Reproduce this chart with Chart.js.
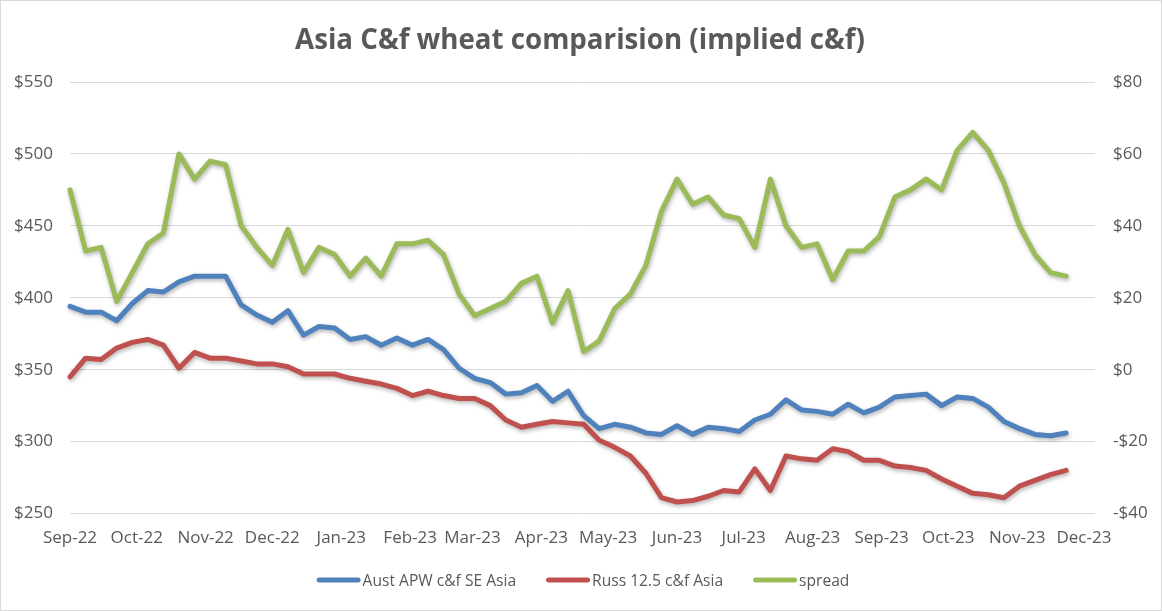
<!DOCTYPE html>
<html>
<head>
<meta charset="utf-8">
<title>Asia C&amp;f wheat comparision</title>
<script src="https://cdn.jsdelivr.net/npm/chart.js@4.4.0/dist/chart.umd.min.js"></script>
<style>
  html, body { margin: 0; padding: 0; background: #ffffff; }
  .chart-box { position: relative; width: 1162px; height: 611px; }
</style>
</head>
<body>
<div class="chart-box"><canvas id="wheatChart"></canvas></div>
<script>
// weekly observations (Thursdays)
const weekDates = [
    '2022-09-01', '2022-09-08', '2022-09-15', '2022-09-22', '2022-09-29',
    '2022-10-06', '2022-10-13', '2022-10-20', '2022-10-27',
    '2022-11-03', '2022-11-10', '2022-11-17', '2022-11-24',
    '2022-12-01', '2022-12-08', '2022-12-15', '2022-12-22', '2022-12-29',
    '2023-01-05', '2023-01-12', '2023-01-19', '2023-01-26',
    '2023-02-02', '2023-02-09', '2023-02-16', '2023-02-23',
    '2023-03-02', '2023-03-09', '2023-03-16', '2023-03-23', '2023-03-30',
    '2023-04-06', '2023-04-13', '2023-04-20', '2023-04-27',
    '2023-05-04', '2023-05-11', '2023-05-18', '2023-05-25',
    '2023-06-01', '2023-06-08', '2023-06-15', '2023-06-22', '2023-06-29',
    '2023-07-06', '2023-07-13', '2023-07-20', '2023-07-27',
    '2023-08-03', '2023-08-10', '2023-08-17', '2023-08-24', '2023-08-31',
    '2023-09-07', '2023-09-14', '2023-09-21', '2023-09-28',
    '2023-10-05', '2023-10-12', '2023-10-19', '2023-10-26',
    '2023-11-02', '2023-11-09', '2023-11-16', '2023-11-23'
];

const tickDates = [
    '2022-09-01', '2022-10-01', '2022-11-01', '2022-12-01', '2023-01-01', '2023-02-01',
    '2023-03-01', '2023-04-01', '2023-05-01', '2023-06-01', '2023-07-01', '2023-08-01',
    '2023-09-01', '2023-10-01', '2023-11-01', '2023-12-01'
];
const tickLabels = [
    'Sep-22', 'Oct-22', 'Nov-22', 'Dec-22', 'Jan-23', 'Feb-23', 'Mar-23', 'Apr-23',
    'May-23', 'Jun-23', 'Jul-23', 'Aug-23', 'Sep-23', 'Oct-23', 'Nov-23', 'Dec-23'
];

const austApw = [
    394, 390, 390, 384, 396, 405, 404, 411, 415, 415, 415, 395, 388, 383, 391, 374,
    380, 379, 371, 373, 367, 372, 367, 371, 364, 351, 344, 341, 333, 334, 339, 328,
    335, 318, 309, 312, 310, 306, 305, 311, 305, 310, 309, 307, 315, 319, 329, 322,
    321, 319, 326, 320, 324, 331, 332, 333, 325, 331, 330, 324, 314, 309, 305, 304, 306
];
const russ125 = [
    345, 358, 357, 365, 369, 371, 367, 351, 362, 358, 358, 356, 354, 354, 352, 347,
    347, 347, 344, 342, 340, 337, 332, 335, 332, 330, 330, 325, 315, 310, 312, 314,
    313, 312, 301, 296, 290, 278, 261, 258, 259, 262, 266, 265, 281, 266, 290, 288,
    287, 295, 293, 287, 287, 283, 282, 280, 274, 269, 264, 263, 261, 269, 273, 277, 280
];
const spread = [
    50, 33, 34, 19, 27, 35, 38, 60, 53, 58, 57, 40, 34, 29, 39, 27,
    34, 32, 26, 31, 26, 35, 35, 36, 32, 21, 15, 17, 19, 24, 26, 13,
    22, 5, 8, 17, 21, 29, 44, 53, 46, 48, 43, 42, 34, 53, 40, 34,
    35, 25, 33, 33, 37, 48, 50, 53, 50, 61, 66, 61, 52, 40, 32, 27, 26
];

const seriesNames = ['Aust APW c&f SE Asia', 'Russ 12.5 c&f Asia', 'spread'];
const chartTitle = 'Asia C&f wheat comparision (implied c&f)';

const fontFamily = "'Open Sans', 'DejaVu Sans', sans-serif";
const textColor = '#595959';

const dayZero = Date.parse(weekDates[0]);
const toDay = d => (Date.parse(d) - dayZero) / 86400000;
const toPoints = values => values.map((v, i) => ({ x: toDay(weekDates[i]), y: v }));

const money = v => (v < 0 ? '-$' + Math.abs(v) : '$' + v);

// excel-ish soft shadow under each line
const lineShadow = {
    id: 'lineShadow',
    beforeDatasetDraw: chart => {
        const ctx = chart.ctx;
        ctx.save();
        ctx.shadowColor = 'rgba(0, 0, 0, 0.3)';
        ctx.shadowBlur = 4;
        ctx.shadowOffsetX = 1;
        ctx.shadowOffsetY = 2;
    },
    afterDatasetDraw: chart => {
        chart.ctx.restore();
    }
};

// title, legend and outer border drawn where excel puts them
const excelFrame = {
    id: 'excelFrame',
    beforeDraw: chart => {
        const ctx = chart.ctx;
        ctx.save();
        ctx.fillStyle = '#ffffff';
        ctx.fillRect(0, 0, chart.width, chart.height);
        ctx.restore();
    },
    afterDraw: chart => {
        const ctx = chart.ctx;
        ctx.save();
        ctx.strokeStyle = '#d9d9d9';
        ctx.lineWidth = 1;
        ctx.strokeRect(0.5, 0.5, chart.width - 1, chart.height - 1);

        ctx.fillStyle = textColor;
        ctx.font = `bold 27.7px ${fontFamily}`;
        ctx.textAlign = 'center';
        ctx.textBaseline = 'alphabetic';
        ctx.fillText(chartTitle, 580, 49);

        ctx.font = `15.6px ${fontFamily}`;
        ctx.textAlign = 'left';
        const items = chart.data.datasets.map(ds => ({
            label: ds.label,
            color: ds.borderColor,
            width: ctx.measureText(ds.label).width
        }));
        const lineLen = 44, gap = 2, spacing = 30;
        const total = items.reduce((sum, it) => sum + lineLen + gap + it.width, 0) + spacing * (items.length - 1);
        let x = 583 - total / 2;
        items.forEach(it => {
            ctx.strokeStyle = it.color;
            ctx.lineWidth = 5;
            ctx.lineCap = 'round';
            ctx.beginPath();
            ctx.moveTo(x + 2.5, 580);
            ctx.lineTo(x + lineLen - 2.5, 580);
            ctx.stroke();
            ctx.fillStyle = textColor;
            ctx.fillText(it.label, x + lineLen + gap, 586);
            x += lineLen + gap + it.width + spacing;
        });
        ctx.restore();
    }
};

const tickFont = { family: fontFamily, size: 17 };

const ctx = document.getElementById('wheatChart').getContext('2d');
new Chart(ctx, {
    type: 'line',
    data: {
        datasets: [{
            label: seriesNames[0],
            data: toPoints(austApw),
            borderColor: '#4F81BD',
            yAxisID: 'y'
        }, {
            label: seriesNames[1],
            data: toPoints(russ125),
            borderColor: '#C0504D',
            yAxisID: 'y'
        }, {
            label: seriesNames[2],
            data: toPoints(spread),
            borderColor: '#9BBB59',
            yAxisID: 'y1'
        }]
    },
    options: {
        responsive: true,
        maintainAspectRatio: false,
        animation: false,
        layout: {
            padding: { top: 82, bottom: 57.5, left: 0, right: 0 }
        },
        datasets: {
            line: {
                borderWidth: 5,
                borderJoinStyle: 'round',
                borderCapStyle: 'round',
                fill: false,
                tension: 0,
                pointRadius: 0,
                pointHoverRadius: 0,
                clip: false
            }
        },
        plugins: {
            legend: { display: false },
            title: { display: false },
            tooltip: { enabled: false }
        },
        scales: {
            x: {
                type: 'linear',
                min: 0,
                max: 461,
                grid: { display: false, drawTicks: false },
                border: { display: false },
                afterBuildTicks: scale => {
                    scale.ticks = tickDates.map(d => ({ value: toDay(d) }));
                },
                afterFit: scale => {
                    scale.height = 40;
                },
                ticks: {
                    color: textColor,
                    font: tickFont,
                    padding: 14,
                    autoSkip: false,
                    maxRotation: 0,
                    callback: (value, index) => tickLabels[index]
                }
            },
            y: {
                position: 'left',
                min: 250,
                max: 550,
                grid: { color: '#d9d9d9', lineWidth: 1, drawTicks: false },
                border: { display: false },
                afterFit: scale => {
                    scale.width = 70;
                },
                ticks: {
                    stepSize: 50,
                    color: textColor,
                    font: tickFont,
                    padding: 17,
                    callback: value => money(value)
                }
            },
            y1: {
                position: 'right',
                min: -40,
                max: 80,
                grid: { display: false, drawTicks: false },
                border: { display: false },
                afterFit: scale => {
                    scale.width = 67;
                },
                ticks: {
                    stepSize: 20,
                    color: textColor,
                    font: tickFont,
                    padding: 18,
                    callback: value => money(value)
                }
            }
        }
    },
    plugins: [lineShadow, excelFrame]
});
</script>
</body>
</html>
